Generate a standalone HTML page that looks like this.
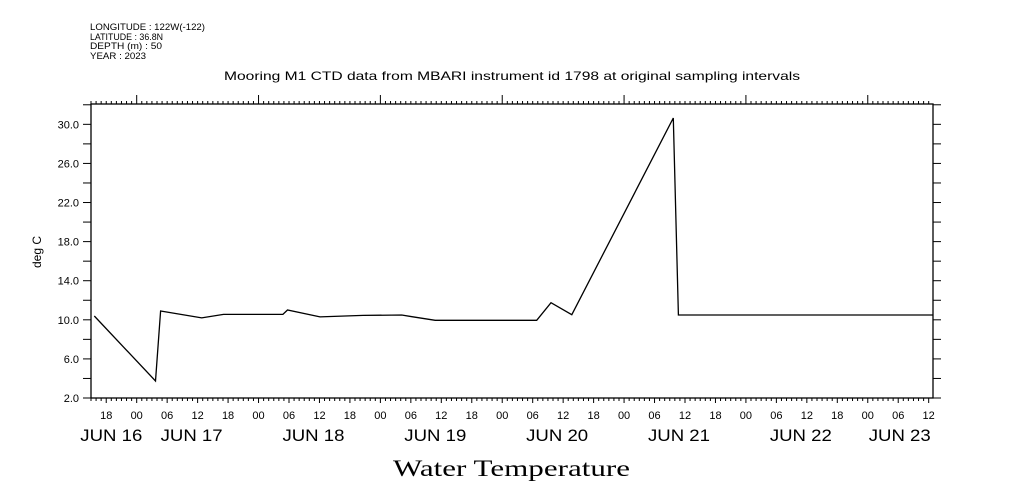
<!DOCTYPE html>
<html><head><meta charset="utf-8"><style>
html,body{margin:0;padding:0;background:#fff;}
svg{display:block;font-family:"Liberation Sans",sans-serif;}
</style></head><body>
<svg id="chart" width="1009" height="504" viewBox="0 0 1009 504" xmlns="http://www.w3.org/2000/svg">
<g font-size="9" fill="#000">
<text x="90" y="30" textLength="115" lengthAdjust="spacingAndGlyphs">LONGITUDE : 122W(-122)</text>
<text x="90" y="40" textLength="73" lengthAdjust="spacingAndGlyphs">LATITUDE : 36.8N</text>
<text x="90" y="49" textLength="72" lengthAdjust="spacingAndGlyphs">DEPTH (m) : 50</text>
<text x="90" y="59" textLength="56" lengthAdjust="spacingAndGlyphs">YEAR : 2023</text>
</g>
<text x="224" y="80" textLength="576" lengthAdjust="spacingAndGlyphs" font-size="12">Mooring M1 CTD data from MBARI instrument id 1798 at original sampling intervals</text>
<text x="393" y="476" textLength="237" lengthAdjust="spacingAndGlyphs" font-size="23" font-family="Liberation Serif, serif">Water Temperature</text>
<text x="0" y="0" transform="translate(41,252) rotate(-90)" text-anchor="middle" font-size="12">deg C</text>
<rect x="91" y="104" width="842" height="294" fill="none" stroke="#000" stroke-width="1.3"/>
<g id="axes"></g>
<path id="series" fill="none" stroke="#000" stroke-width="1.3"/>
</svg>
<script>
// hours since Jun 16 00:00
const hours = [15.65, 27.7, 28.7, 36.8, 41.1, 52.8, 53.7, 60.1, 68.6, 76.2, 78.2, 82.8, 102.8, 105.6, 109.7, 129.7, 130.7, 180.8];
const temps = [10.39, 3.74, 10.9, 10.2, 10.55, 10.55, 11.0, 10.3, 10.45, 10.49, 10.32, 9.95, 9.95, 11.75, 10.52, 30.65, 10.49, 10.49];
const yTicks = [2, 6, 10, 14, 18, 22, 26, 30];
const dayLabels = ["JUN 16","JUN 17","JUN 18","JUN 19","JUN 20","JUN 21","JUN 22","JUN 23"];
const X0=91,X1=933,Y0=398,Y1=104,H0=15.0,H1=180.85,T0=2,T1=32.08;
function xs(h){return X0+(h-H0)/(H1-H0)*(X1-X0);}
function ys(t){return Y0-(t-T0)/(T1-T0)*(Y0-Y1);}
const NS="http://www.w3.org/2000/svg";
const ax=document.getElementById('axes');
function line(x1,y1,x2,y2,name){const l=document.createElementNS(NS,'line');l.setAttribute('x1',x1);l.setAttribute('y1',y1);l.setAttribute('x2',x2);l.setAttribute('y2',y2);l.setAttribute('stroke','#000');l.setAttribute('stroke-width','1');


ax.appendChild(l);}
function text(x,y,s,anchor,size,name,len){const t=document.createElementNS(NS,'text');t.setAttribute('x',x);t.setAttribute('y',y);t.setAttribute('text-anchor',anchor);t.setAttribute('font-size',size);t.textContent=s;
if(len){t.setAttribute('textLength',len);t.setAttribute('lengthAdjust','spacingAndGlyphs');}


ax.appendChild(t);}
for(let v=2;v<=32;v+=2){const y=ys(v);line(X0-8,y,X0,y,'y-tick');line(X1,y,X1+8,y,'y-tick-right');}
yTicks.forEach(v=>text(79,ys(v)+4,v.toFixed(1),'end',11,'y-tick-label'));
for(let h=Math.ceil(H0);h<=H1;h++){const x=xs(h);let len=3,top=3;
 if(h%24===0){len=5;top=9;}else if(h%6===0){len=5;}
 line(x,Y0,x,Y0+len,'x-tick');line(x,Y1,x,Y1-top,'x-tick-top');
 if(h%6===0){text(x,419,String(h%24).padStart(2,'0'),'middle',11,'x-tick-label');}
}
dayLabels.forEach((d,i)=>{let x=xs(i*24+12)-6;if(i===0)x=xs(19);if(i===7)x=xs(174.3);text(x,441,d,'middle',17,'date-label',62);});
document.getElementById('series').setAttribute('d',hours.map((h,i)=>(i?'L':'M')+xs(h).toFixed(1)+','+ys(temps[i]).toFixed(1)).join(' '));
</script>
</body></html>
